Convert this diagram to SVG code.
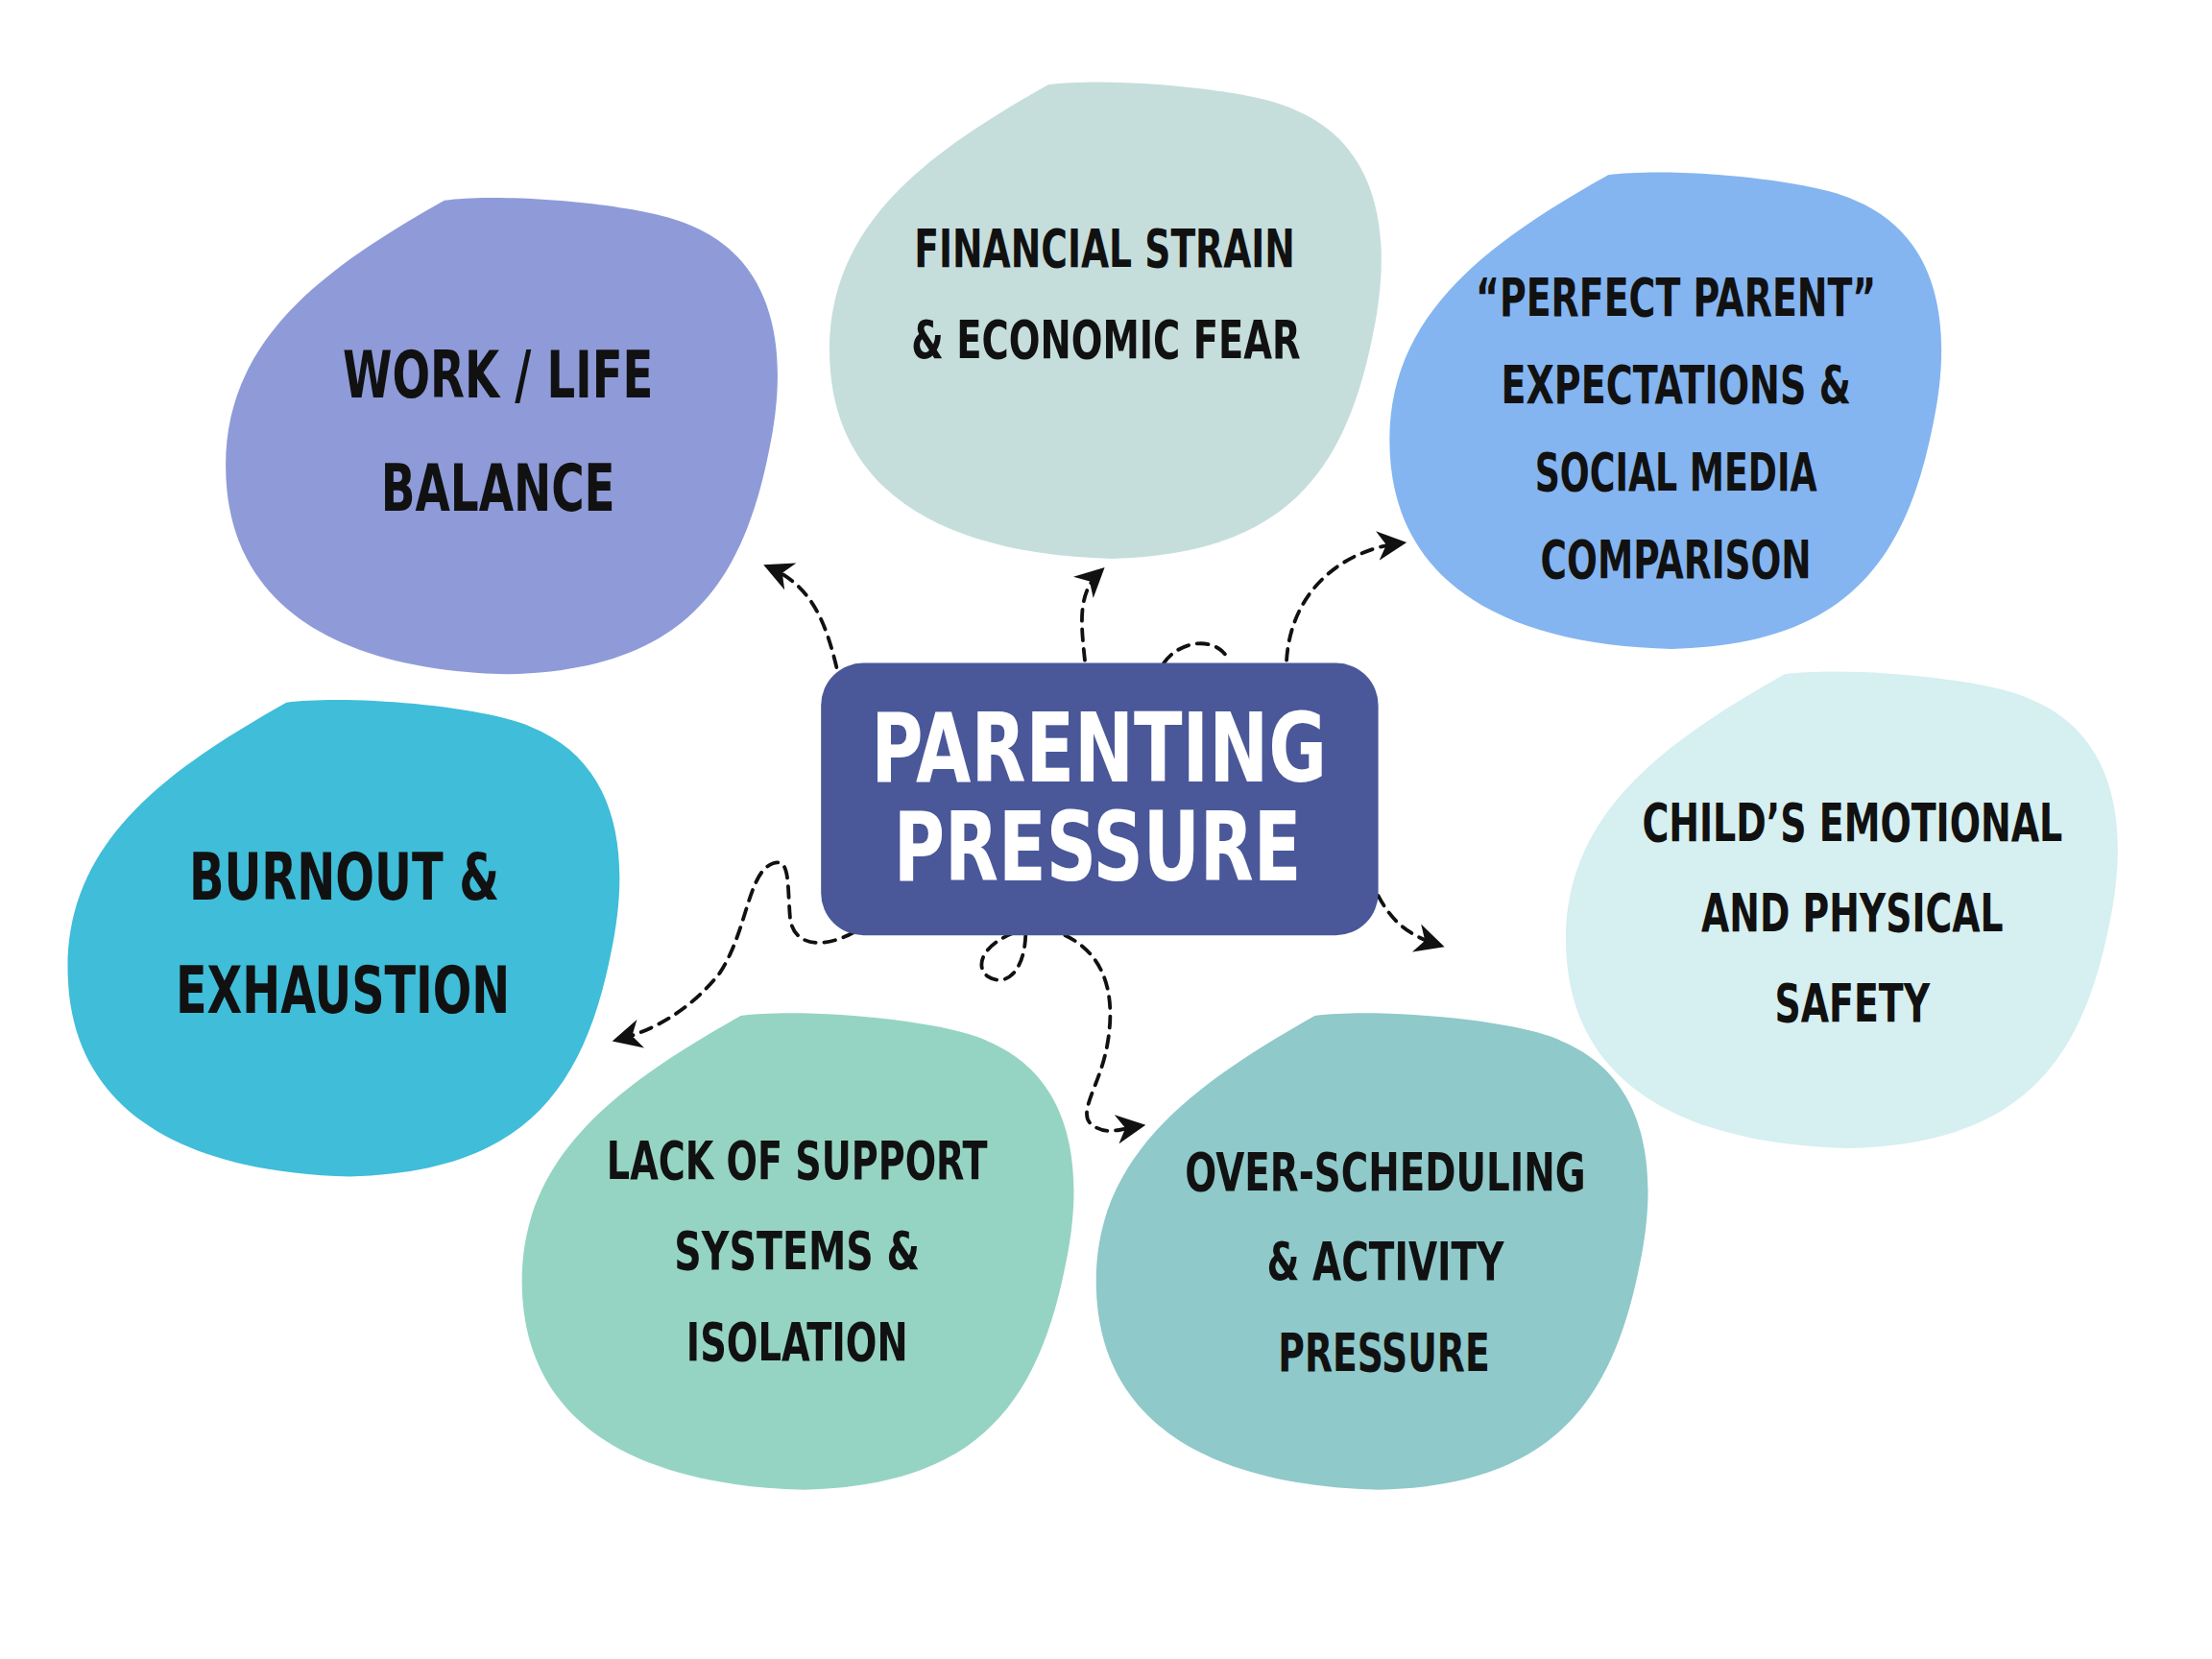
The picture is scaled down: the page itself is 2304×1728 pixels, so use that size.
<svg xmlns="http://www.w3.org/2000/svg" width="2304" height="1728" viewBox="0 0 2304 1728">
<style>
.t{font-family:"DejaVu Sans Condensed","DejaVu Sans",sans-serif;font-weight:bold;text-anchor:middle;fill:#111}
.c{fill:none;stroke:#111;stroke-width:2.6;stroke-dasharray:8 6;stroke-linecap:round}
</style>
<defs>
<path id="blob" d="M155,2 C200,-4 300,5 330,20 C390,45 400,110 385,180 C365,280 320,335 200,338 C80,335 0,290 0,190 C0,100 70,50 155,2 Z"/>
<marker id="ah" viewBox="0 0 10 10" refX="8" refY="5" markerWidth="8" markerHeight="8" orient="auto" markerUnits="strokeWidth">
<path d="M0,0 L10,5 L0,10 L3,5 Z" fill="#111"/>
</marker>
</defs>
<rect width="2304" height="1728" fill="#fff"/>
<g transform="scale(1.4694)">
<g id="n-work"><use href="#blob" x="160" y="140" fill="#8e9bd8"/>
<text class="t" x="353" y="282" font-size="46" textLength="220" lengthAdjust="spacingAndGlyphs">WORK / LIFE</text><text class="t" x="353" y="362" font-size="46" textLength="166" lengthAdjust="spacingAndGlyphs">BALANCE</text></g>
<g id="n-financial"><use href="#blob" x="588" y="58" fill="#c5dedc"/>
<text class="t" x="783" y="189" font-size="37" textLength="270" lengthAdjust="spacingAndGlyphs">FINANCIAL STRAIN</text><text class="t" x="784" y="254" font-size="37" textLength="276" lengthAdjust="spacingAndGlyphs">&amp; ECONOMIC FEAR</text></g>
<g id="n-perfect"><use href="#blob" x="985" y="122" fill="#84b5f0"/>
<text class="t" x="1188" y="224" font-size="37" textLength="284" lengthAdjust="spacingAndGlyphs">“PERFECT PARENT”</text><text class="t" x="1188" y="286" font-size="37" textLength="248" lengthAdjust="spacingAndGlyphs">EXPECTATIONS &amp;</text><text class="t" x="1188" y="348" font-size="37" textLength="200" lengthAdjust="spacingAndGlyphs">SOCIAL MEDIA</text><text class="t" x="1188" y="410" font-size="37" textLength="192" lengthAdjust="spacingAndGlyphs">COMPARISON</text></g>
<g id="n-child"><use href="#blob" x="1110" y="476" fill="#d6eff0"/>
<text class="t" x="1313" y="596" font-size="37" textLength="298" lengthAdjust="spacingAndGlyphs">CHILD’S EMOTIONAL</text><text class="t" x="1313" y="660" font-size="37" textLength="214" lengthAdjust="spacingAndGlyphs">AND PHYSICAL</text><text class="t" x="1313" y="724" font-size="37" textLength="110" lengthAdjust="spacingAndGlyphs">SAFETY</text></g>
<g id="n-burnout"><use href="#blob" x="48" y="496" fill="#3fbdd9"/>
<text class="t" x="244" y="638" font-size="46" textLength="220" lengthAdjust="spacingAndGlyphs">BURNOUT &amp;</text><text class="t" x="243" y="718" font-size="46" textLength="237" lengthAdjust="spacingAndGlyphs">EXHAUSTION</text></g>
<g id="n-support"><use href="#blob" x="370" y="718" fill="#95d4c2"/>
<text class="t" x="565" y="836" font-size="37" textLength="270" lengthAdjust="spacingAndGlyphs">LACK OF SUPPORT</text><text class="t" x="565" y="900" font-size="37" textLength="174" lengthAdjust="spacingAndGlyphs">SYSTEMS &amp;</text><text class="t" x="565" y="964" font-size="37" textLength="157" lengthAdjust="spacingAndGlyphs">ISOLATION</text></g>
<g id="n-over"><use href="#blob" x="777" y="718" fill="#8fc9ca"/>
<text class="t" x="982" y="844" font-size="37" textLength="284" lengthAdjust="spacingAndGlyphs">OVER-SCHEDULING</text><text class="t" x="982" y="907" font-size="37" textLength="168" lengthAdjust="spacingAndGlyphs">&amp; ACTIVITY</text><text class="t" x="981" y="972" font-size="37" textLength="150" lengthAdjust="spacingAndGlyphs">PRESSURE</text></g>
<g id="connectors">
<path class="c" d="M593,473 C585,440 575,415 545,402" marker-end="url(#ah)"/>
<path class="c" d="M769,468 C766,440 764,420 780,405" marker-end="url(#ah)"/>
<path class="c" d="M912,468 C915,420 950,390 993,385" marker-end="url(#ah)"/>
<path class="c" d="M825,470 C835,455 860,450 870,466"/>
<path class="c" d="M977,635 C985,650 995,662 1020,670" marker-end="url(#ah)"/>
<path class="c" d="M605,661 C585,672 562,672 560,650 C558,625 560,608 548,612 C530,618 530,660 510,690 C490,715 465,730 438,737" marker-end="url(#ah)"/>
<path class="c" d="M727,663 C726,690 712,700 700,692 C690,684 698,668 722,660"/>
<path class="c" d="M755,663 C780,675 792,700 785,740 C780,770 762,790 775,798 C785,805 795,800 808,798" marker-end="url(#ah)"/>
</g>
<g id="n-center"><rect x="582" y="470" width="395" height="193" rx="30" fill="#4a5899"/>
<text class="t" x="779" y="554" font-size="68" textLength="323" lengthAdjust="spacingAndGlyphs" style="fill:#fff">PARENTING</text><text class="t" x="778" y="624" font-size="68" textLength="289" lengthAdjust="spacingAndGlyphs" style="fill:#fff">PRESSURE</text></g>
</g>
</svg>
